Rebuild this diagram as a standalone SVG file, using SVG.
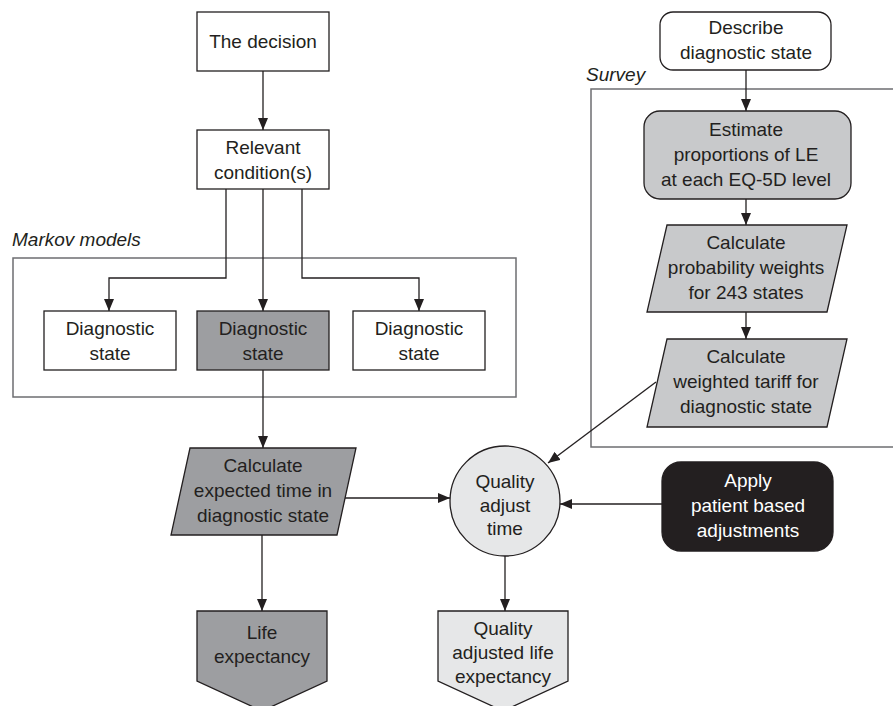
<svg xmlns="http://www.w3.org/2000/svg" width="893" height="706" viewBox="0 0 893 706">
<style>
text{font-family:"Liberation Sans",Arial,sans-serif;font-size:19px;fill:#231f20;text-anchor:middle}
.lbl{font-style:italic;text-anchor:start}
.box{stroke:#231f20;stroke-width:1.3}
.cont{fill:none;stroke:#6d6e71;stroke-width:1.5}
.conn{fill:none;stroke:#231f20;stroke-width:1.3}
.w{fill:#fff}.dk{fill:#9d9ea1}.md{fill:#c8c9cb}.lt{fill:#e6e7e8}.bk{fill:#231f20}
.wt{fill:#fff}
</style>
<defs>
<marker id="ah" markerUnits="userSpaceOnUse" markerWidth="12" markerHeight="10" viewBox="0 0 12 10" refX="12" refY="5" orient="auto">
<path d="M0,0 L12,5 L0,10 z" fill="#231f20"/>
</marker>
</defs>
<g id="containers">
<rect class="cont" x="13" y="258" width="503" height="139"/>
<text class="lbl" x="12" y="246">Markov models</text>
<rect class="cont" x="591" y="89" width="320" height="358"/>
<text class="lbl" x="586" y="81">Survey</text>
</g>
<g id="connectors">
<line class="conn" x1="263" y1="71" x2="263" y2="130" marker-end="url(#ah)"/>
<polyline class="conn" points="226,189 226,278 109,278 109,311" marker-end="url(#ah)"/>
<line class="conn" x1="263" y1="189" x2="263" y2="311" marker-end="url(#ah)"/>
<polyline class="conn" points="302,189 302,278 419,278 419,311" marker-end="url(#ah)"/>
<line class="conn" x1="263" y1="370" x2="263" y2="448" marker-end="url(#ah)"/>
<line class="conn" x1="746" y1="70" x2="746" y2="111" marker-end="url(#ah)"/>
<line class="conn" x1="746" y1="199" x2="746" y2="225" marker-end="url(#ah)"/>
<line class="conn" x1="746" y1="312" x2="746" y2="339" marker-end="url(#ah)"/>
<line class="conn" x1="656" y1="382" x2="548" y2="463" marker-end="url(#ah)"/>
<line class="conn" x1="345" y1="498" x2="450" y2="498" marker-end="url(#ah)"/>
<line class="conn" x1="662" y1="504" x2="560" y2="504" marker-end="url(#ah)"/>
<line class="conn" x1="505" y1="556" x2="505" y2="611" marker-end="url(#ah)"/>
<line class="conn" x1="262" y1="535" x2="262" y2="611" marker-end="url(#ah)"/>
</g>
<g id="decision">
<rect class="box w" x="197" y="12" width="132" height="59"/>
<text x="263" y="48">The decision</text>
</g>
<g id="relevant">
<rect class="box w" x="197" y="130" width="132" height="59"/>
<text x="263" y="154">Relevant</text>
<text x="263" y="179">condition(s)</text>
</g>
<g id="diag-left">
<rect class="box w" x="44" y="311" width="132" height="59"/>
<text x="110" y="335">Diagnostic</text>
<text x="110" y="360">state</text>
</g>
<g id="diag-mid">
<rect class="box dk" x="197" y="311" width="132" height="59"/>
<text x="263" y="335">Diagnostic</text>
<text x="263" y="360">state</text>
</g>
<g id="diag-right">
<rect class="box w" x="353" y="311" width="132" height="59"/>
<text x="419" y="335">Diagnostic</text>
<text x="419" y="360">state</text>
</g>
<g id="describe">
<rect class="box w" x="660" y="12" width="171" height="58" rx="13"/>
<text x="746" y="34">Describe</text>
<text x="746" y="59">diagnostic state</text>
</g>
<g id="estimate">
<rect class="box md" x="644" y="111" width="207" height="88" rx="16"/>
<text x="746" y="136">Estimate</text>
<text x="746" y="161">proportions of LE</text>
<text x="746" y="186">at each EQ-5D level</text>
</g>
<g id="prob-weights">
<polygon class="box md" points="667,225 847,225 827,312 647,312"/>
<text x="746" y="249">Calculate</text>
<text x="746" y="274">probability weights</text>
<text x="746" y="299">for 243 states</text>
</g>
<g id="weighted-tariff">
<polygon class="box md" points="667,339 847,339 827,427 647,427"/>
<text x="746" y="363">Calculate</text>
<text x="746" y="388">weighted tariff for</text>
<text x="746" y="413">diagnostic state</text>
</g>
<g id="expected-time">
<polygon class="box dk" points="190,448 356,448 337,535 171,535"/>
<text x="263" y="472">Calculate</text>
<text x="263" y="497">expected time in</text>
<text x="263" y="522">diagnostic state</text>
</g>
<g id="quality-adjust">
<circle class="box lt" cx="505" cy="501" r="55"/>
<text x="505" y="488">Quality</text>
<text x="505" y="512">adjust</text>
<text x="505" y="535">time</text>
</g>
<g id="patient-adj">
<rect class="box bk" x="662" y="462" width="171" height="89" rx="19"/>
<text class="wt" x="748" y="487">Apply</text>
<text class="wt" x="748" y="512">patient based</text>
<text class="wt" x="748" y="537">adjustments</text>
</g>
<g id="life-exp">
<polygon class="box dk" points="197,611 327,611 327,681 262,711 197,681"/>
<text x="262" y="639">Life</text>
<text x="262" y="663">expectancy</text>
</g>
<g id="qale">
<polygon class="box lt" points="438,611 568,611 568,681 503,711 438,681"/>
<text x="503" y="635">Quality</text>
<text x="503" y="659">adjusted life</text>
<text x="503" y="683">expectancy</text>
</g>
</svg>
